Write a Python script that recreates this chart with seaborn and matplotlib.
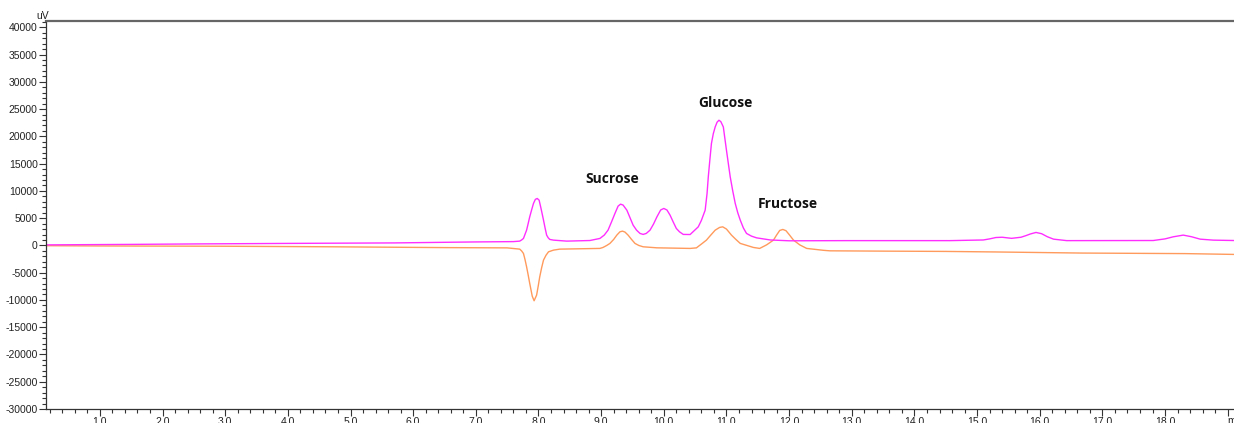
import matplotlib
matplotlib.use("Agg")
import matplotlib.pyplot as plt
from matplotlib.ticker import MultipleLocator, FixedLocator
import numpy as np
import pandas as pd
import seaborn as sns

# retention time (min) and detector signal (uV)
time_a = [0.14, 1.5, 2.6, 4.0, 5.7, 7.0, 7.6, 7.70, 7.73, 7.76, 7.81, 7.835, 7.86, 7.89,
          7.92, 7.95, 7.98, 8.01, 8.04, 8.08, 8.105, 8.13, 8.155, 8.18, 8.24, 8.45,
          8.82, 8.98, 9.05, 9.11, 9.165, 9.22, 9.27, 9.31, 9.35, 9.41, 9.46, 9.51,
          9.565, 9.62, 9.67, 9.72, 9.78, 9.835, 9.89, 9.95, 10.0, 10.05, 10.1, 10.15,
          10.2, 10.25, 10.31, 10.42, 10.55, 10.6, 10.66, 10.69, 10.71, 10.735, 10.76,
          10.79, 10.82, 10.85, 10.88, 10.91, 10.95, 10.97, 11.0, 11.03, 11.06, 11.1,
          11.14, 11.18, 11.22, 11.27, 11.32, 11.4, 11.48, 11.7, 12.0, 12.94, 13.4,
          14.57, 15.1, 15.2, 15.3, 15.4, 15.55, 15.7, 15.78, 15.85, 15.94, 16.03,
          16.12, 16.22, 16.43, 17.81, 18.0, 18.13, 18.29, 18.42, 18.56, 18.77, 19.1]
signal_a = [100, 190, 280, 370, 460, 640, 700, 790, 1000, 1280, 2800, 4000, 5240, 6500,
            7700, 8450, 8610, 8300, 6800, 4640, 3200, 1890, 1400, 1100, 970, 790,
            900, 1280, 1900, 2800, 4300, 5860, 7200, 7570, 7400, 6470, 5100, 3720,
            2800, 2200, 2020, 2200, 2800, 3900, 5240, 6500, 6780, 6500, 5550, 4300,
            3110, 2500, 2020, 2000, 3410, 4600, 6470, 9500, 12570, 15700, 18690,
            20500, 21730, 22600, 22960, 22700, 21730, 20000, 17460, 15000, 12570, 10000,
            7700, 6000, 4640, 3200, 2200, 1700, 1390, 1000, 850, 880, 880,
            880, 1000, 1200, 1450, 1500, 1300, 1500, 1800, 2100, 2380, 2150,
            1600, 1150, 880, 900, 1200, 1580, 1890, 1600, 1150, 970, 900]

time_b = [0.14, 1.0, 3.0, 4.7, 6.5, 7.5, 7.70, 7.73, 7.76, 7.785, 7.81, 7.835, 7.86,
          7.90, 7.93, 7.97, 7.995, 8.02, 8.05, 8.08, 8.12, 8.16, 8.24, 8.34, 8.98,
          9.03, 9.09, 9.14, 9.2, 9.25, 9.30, 9.34, 9.38, 9.43, 9.485, 9.54, 9.6, 9.67,
          9.89, 10.42, 10.52, 10.6, 10.68, 10.75, 10.82, 10.89, 10.94, 11.0, 11.08,
          11.15, 11.22, 11.43, 11.53, 11.64, 11.75, 11.8, 11.85, 11.9, 11.95, 12.0,
          12.07, 12.17, 12.28, 12.55, 12.65, 13.56, 14.5, 15.31, 16.67, 18.32, 19.1]
signal_b = [-50, -100, -150, -250, -400, -450, -680, -1000, -1470, -2600, -3920, -5400,
            -6960, -9300, -10150, -9110, -7500, -5750, -4100, -2690, -1800, -1170, -860,
            -680, -550, -370, 0, 370, 1100, 1890, 2500, 2620, 2450, 1890, 1100, 370, 0,
            -250, -440, -550, -450, 250, 970, 1900, 2800, 3300, 3410, 3000, 1890,
            1100, 370, -370, -550, 100, 970, 1900, 2750, 2930, 2700, 2000,
            970, 100, -550, -900, -990, -1050, -1100, -1200, -1400, -1500, -1650]

peak_names = ["Sucrose", "Glucose", "Fructose"]
peak_time = [9.17, 10.99, 11.98]
peak_label_y = [12150, 26080, 7570]

sns.set_style("ticks")
plt.rcParams["font.family"] = ["Liberation Sans", "DejaVu Sans"]
plt.rcParams["axes.unicode_minus"] = False

fig = plt.figure(figsize=(12.34, 4.23), dpi=100)
ax = fig.add_axes([46 / 1234, 14 / 423, 1188 / 1234, 388 / 423])

df_a = pd.DataFrame({"time": time_a, "signal": signal_a})
df_b = pd.DataFrame({"time": time_b, "signal": signal_b})
sns.lineplot(data=df_b, x="time", y="signal", color="#ff9a5c", lw=1.0,
             estimator=None, ax=ax)
sns.lineplot(data=df_a, x="time", y="signal", color="#ff2eff", lw=1.0,
             estimator=None, ax=ax)

for name, t, y in zip(peak_names, peak_time, peak_label_y):
    ax.text(t, y, name, ha="center", va="center", fontsize=10,
            fontweight="bold", family=["Open Sans", "DejaVu Sans"], color="#111")

ax.set_xlim(0.14, 19.1)
ax.set_ylim(-30000, 41160)
ax.set_xlabel("")
ax.set_ylabel("")

ax.yaxis.set_minor_locator(MultipleLocator(1000))
ax.set_yticks(np.arange(-30000, 40001, 5000))
ax.set_yticklabels([str(v) for v in range(-30000, 40001, 5000)])

xt = list(range(1, 20))
ax.xaxis.set_major_locator(FixedLocator(xt))
ax.set_xticklabels([f"{v:.1f}" for v in xt[:-1]] + [""])
ax.xaxis.set_minor_locator(MultipleLocator(0.2))

ax.tick_params(which="major", length=5, width=0.8, color="#333",
               labelsize=7.5, labelcolor="#222", pad=1)
ax.tick_params(which="minor", length=3, width=0.8, color="#333")

for s in ["left", "bottom"]:
    ax.spines[s].set_color("#333")
    ax.spines[s].set_linewidth(0.9)
ax.spines["top"].set_color("#666")
ax.spines["top"].set_linewidth(1.6)
ax.spines["right"].set_visible(False)

fig.text(43 / 1234, 1 - 16 / 423, "uV", ha="center", va="center", fontsize=7.5,
         color="#222")
fig.text(1227 / 1234, 1 - 421 / 423, "min", ha="left", va="center", fontsize=7.5,
         color="#222")

fig.savefig("out.png", dpi=100)
